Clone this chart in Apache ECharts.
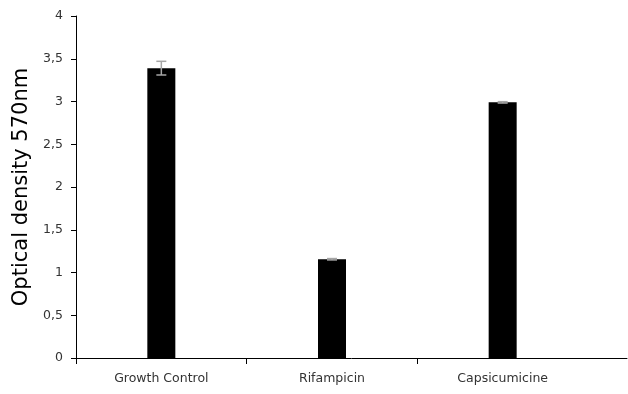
<!DOCTYPE html>
<html><head><meta charset="utf-8">
<script src="https://cdn.jsdelivr.net/npm/echarts@6/dist/echarts.min.js"></script>
<style>html,body{margin:0;padding:0;background:#fff}#c{width:628px;height:394px}</style>
</head><body><div id="c"></div>
<script>
const categories = ['Growth Control', 'Rifampicin', 'Capsicumicine'];
const values = [3.39, 1.155, 2.99];
const errors = [0.08, 0.008, 0.008];
const yTicks = { min: 0, max: 4, interval: 0.5 };
const categoryBoundaries = [0, 1, 2];

const chart = echarts.init(document.getElementById('c'));
const font = 'DejaVu Sans, sans-serif';
chart.setOption({
  animation: false,
  grid: [
    { left: 76, top: 16, bottom: 36, width: 512 },
    { left: 76, top: 16, bottom: 36, right: 1 }
  ],
  xAxis: [
    {
      type: 'category', data: categories, gridIndex: 0, position: 'bottom',
      axisLine: { show: false },
      axisTick: { show: false },
      axisLabel: { color: '#333', fontSize: 12.5, fontFamily: font, margin: 14 }
    },
    {
      type: 'value', gridIndex: 0, min: 0, max: categories.length, position: 'bottom',
      axisLine: { show: false, onZero: false },
      axisTick: { show: true, length: 6, customValues: categoryBoundaries, lineStyle: { color: '#000' } },
      axisLabel: { show: false }, splitLine: { show: false }
    },
    {
      type: 'value', gridIndex: 1, show: true, position: 'bottom',
      axisLine: { show: true, onZero: false, lineStyle: { color: '#000', width: 1 } },
      axisTick: { show: false }, axisLabel: { show: false }, splitLine: { show: false }
    }
  ],
  yAxis: [
    {
      type: 'value', gridIndex: 0, min: yTicks.min, max: yTicks.max, interval: yTicks.interval,
      name: 'Optical density 570nm', nameLocation: 'middle', nameGap: 44,
      nameTextStyle: { fontSize: 21, fontFamily: font, color: '#000' },
      axisLine: { show: true, lineStyle: { color: '#000', width: 1 } },
      axisTick: { show: true, length: 5, lineStyle: { color: '#000' } },
      axisLabel: { color: '#333', fontSize: 12.5, fontFamily: font, margin: 13,
        formatter: v => String(v).replace('.', ',') },
      splitLine: { show: false }
    },
    { type: 'value', gridIndex: 1, show: false }
  ],
  series: [
    {
      type: 'bar', xAxisIndex: 0, yAxisIndex: 0, data: values, barWidth: 28,
      itemStyle: { color: '#000' }
    },
    {
      type: 'custom', xAxisIndex: 0, yAxisIndex: 0,
      data: values.map((v, i) => [i, v - errors[i], v + errors[i]]),
      renderItem: function (params, api) {
        const x = api.value(0);
        const lo = api.coord([x, api.value(1)]);
        const hi = api.coord([x, api.value(2)]);
        const hw = 5;
        const style = { stroke: '#a6a6a6', lineWidth: 1.5 };
        return { type: 'group', children: [
          { type: 'line', shape: { x1: hi[0], y1: hi[1], x2: lo[0], y2: lo[1] }, style },
          { type: 'line', shape: { x1: hi[0] - hw, y1: hi[1], x2: hi[0] + hw, y2: hi[1] }, style },
          { type: 'line', shape: { x1: lo[0] - hw, y1: lo[1], x2: lo[0] + hw, y2: lo[1] }, style }
        ]};
      },
      z: 5
    }
  ]
});
</script></body></html>
